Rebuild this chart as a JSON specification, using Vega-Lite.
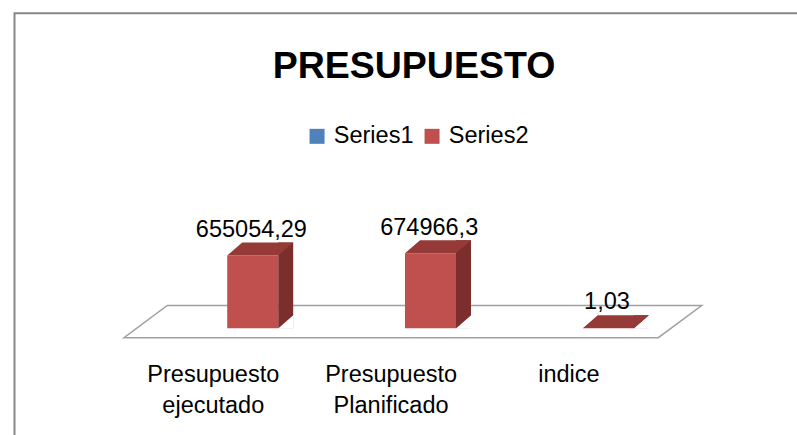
{
  "$schema": "https://vega.github.io/schema/vega-lite/v6.json",
  "width": 786.5,
  "height": 425.8,
  "autosize": {"type": "none"},
  "padding": {"left": 14.5, "top": 13.2, "right": -4, "bottom": -4},
  "background": "white",
  "config": {
    "view": {"stroke": "#878787", "strokeWidth": 2, "fill": "white"},
    "font": "Liberation Sans",
    "locale": {"number": {"decimal": ",", "thousands": "", "grouping": [3], "currency": ["", ""]}}
  },
  "title": {
    "text": "PRESUPUESTO",
    "font": "Liberation Sans",
    "fontSize": 37.5,
    "fontWeight": "bold",
    "color": "#000000",
    "anchor": "middle",
    "frame": "group",
    "baseline": "alphabetic",
    "offset": -102.2,
    "dx": 6.25
  },
  "data": {
    "values": [
      {"category": "Presupuesto ejecutado", "series": "Series1", "value": null},
      {"category": "Presupuesto Planificado", "series": "Series1", "value": null},
      {"category": "indice", "series": "Series1", "value": null},
      {"category": "Presupuesto ejecutado", "series": "Series2", "value": 655054.29},
      {"category": "Presupuesto Planificado", "series": "Series2", "value": 674966.3},
      {"category": "indice", "series": "Series2", "value": 1.03}
    ]
  },
  "transform": [{"filter": "isValid(datum.value)"}],
  "encoding": {
    "x": {
      "field": "category",
      "type": "nominal",
      "sort": ["Presupuesto ejecutado", "Presupuesto Planificado", "indice"],
      "scale": {"type": "band", "domain": ["Presupuesto ejecutado", "Presupuesto Planificado", "indice"], "paddingInner": 0, "paddingOuter": 0.71176, "align": 0.4342},
      "axis": {
        "orient": "bottom",
        "offset": -101.3,
        "title": null,
        "domain": false,
        "ticks": false,
        "grid": false,
        "labelAngle": 0,
        "labelFont": "Liberation Sans",
        "labelFontSize": 23.5,
        "labelColor": "#000000",
        "labelPadding": 25,
        "labelBaseline": "top",
        "labelLineHeight": 31.3,
        "labelExpr": "split(datum.label, ' ')"
      }
    }
  },
  "layer": [
    {
      "transform": [{"filter": "datum.category == 'Presupuesto Planificado'"}],
      "mark": {
        "type": "point",
        "shape": "M-1,0.0557L0.8497,0.0557L1,-0.0557L-0.8501,-0.0557Z",
        "size": 333737,
        "filled": true,
        "fill": "white",
        "stroke": "#A0A0A0",
        "strokeWidth": 1.5,
        "opacity": 1,
        "xOffset": 21.75,
        "yOffset": -6.7
      },
      "encoding": {
        "y": {"datum": 0, "type": "quantitative", "scale": {"domain": [-996300, 2835900], "nice": false, "zero": false}, "axis": null}
      }
    },
    {
      "mark": {"type": "bar", "width": 15, "xOffset": 72.4, "yOffset": -13, "y2Offset": 0, "color": "#7B2E2C"},
      "encoding": {
        "y": {"field": "value", "type": "quantitative"},
        "y2": {"datum": 0}
      }
    },
    {
      "mark": {"type": "bar", "width": 51, "xOffset": 39.4},
      "encoding": {
        "y": {"field": "value", "type": "quantitative"},
        "y2": {"datum": 0},
        "color": {
          "field": "series",
          "type": "nominal",
          "scale": {"domain": ["Series1", "Series2"], "range": ["#4F81BD", "#C0504D"]},
          "legend": {
            "orient": "none",
            "direction": "horizontal",
            "legendX": 290.8,
            "legendY": 111,
            "title": null,
            "padding": 0,
            "symbolType": "square",
            "symbolSize": 225,
            "symbolStrokeWidth": 0,
            "labelFont": "Liberation Sans",
            "labelFontSize": 23.5,
            "labelColor": "#000000",
            "labelOffset": 5,
            "columnPadding": 6
          }
        }
      }
    },
    {
      "mark": {
        "type": "point",
        "shape": "M-1.05,0.92L1.05,0.92L1.05,-0.92Z",
        "size": 225,
        "filled": true,
        "fill": "white",
        "strokeWidth": 0,
        "opacity": 1,
        "xOffset": 72.4,
        "yOffset": -6.5
      },
      "encoding": {
        "y": {"datum": 0, "type": "quantitative"}
      }
    },
    {
      "mark": {
        "type": "point",
        "shape": "M-1,0.197L0.5455,0.197L1,-0.197L-0.5455,-0.197Z",
        "size": 4356,
        "filled": true,
        "fill": "#953A37",
        "strokeWidth": 0,
        "opacity": 1,
        "xOffset": 46.9,
        "yOffset": -6.5
      },
      "encoding": {
        "y": {"field": "value", "type": "quantitative"}
      }
    },
    {
      "mark": {"type": "text", "font": "Liberation Sans", "fontSize": 23.5, "color": "#000000", "baseline": "alphabetic", "align": "center", "dy": -18.8, "xOffset": 38.1},
      "encoding": {
        "y": {"field": "value", "type": "quantitative"},
        "text": {"field": "value", "type": "quantitative", "format": "~f"}
      }
    }
  ]
}
